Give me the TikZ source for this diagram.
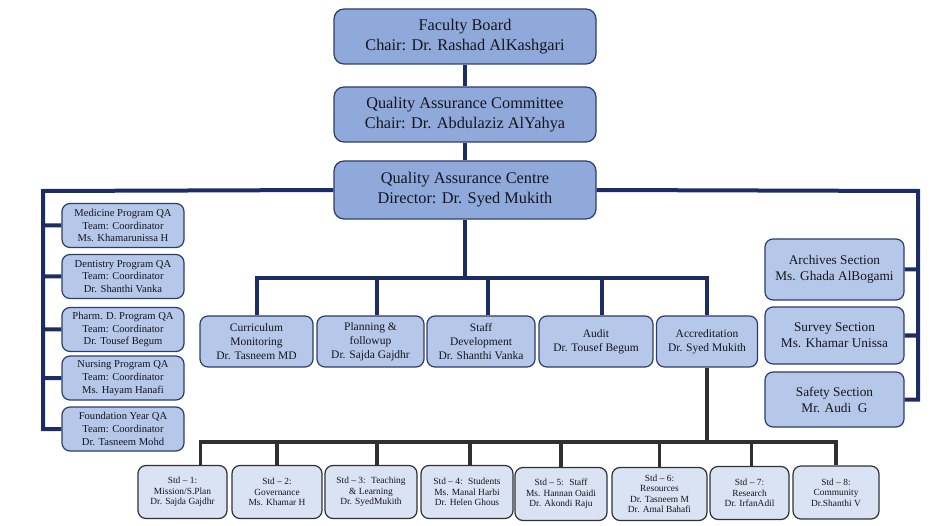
\documentclass[tikz,border=0pt]{standalone}
\usepackage{fontspec}
\setmainfont{Liberation Serif}
\definecolor{topfill}{HTML}{8FA9DB}
\definecolor{unitfill}{HTML}{B6C8E9}
\definecolor{stdfill}{HTML}{DAE3F3}
\definecolor{boxline}{HTML}{2E3C6A}
\definecolor{navyline}{HTML}{1C2D66}
\definecolor{grayline}{HTML}{303030}
\definecolor{txt}{HTML}{15151C}

\begin{document}
\begin{tikzpicture}[x=1pt,y=-1pt,
  box/.style={draw=boxline, line width=1.2pt, rounded corners=8pt, align=center, inner sep=1pt, text=txt},
  topbox/.style={box, fill=topfill, rounded corners=10pt, minimum width=262pt, font=\fontsize{16.3}{20}\selectfont},
  progbox/.style={box, fill=unitfill, minimum width=122pt, minimum height=44pt, font=\fontsize{10.6}{12.7}\selectfont},
  unitbox/.style={box, fill=unitfill, minimum height=51pt, font=\fontsize{11.5}{14}\selectfont},
  secbox/.style={box, fill=unitfill, minimum width=139pt, font=\fontsize{13.3}{16}\selectfont},
  stdbox/.style={box, draw=grayline!90!boxline, fill=stdfill, minimum height=53pt, font=\fontsize{9.4}{10.5}\selectfont},
  link/.style={navyline, line width=4pt},
  stdlink/.style={grayline, line width=3.5pt}]
  \useasboundingbox (0,0) rectangle (939,526);

  \node[topbox, minimum height=55pt] (board) at (465,36.5) {Faculty Board\\Chair: Dr. Rashad AlKashgari};
  \node[topbox, minimum height=55pt] (qac) at (465,114.5) {Quality Assurance Committee\\Chair: Dr. Abdulaziz AlYahya};
  \node[topbox, minimum height=58pt] (centre) at (465,190) {Quality Assurance Centre\\Director: Dr. Syed Mukith};

  \node[progbox] (med) at (123,225.5) {Medicine Program QA\\Team: Coordinator\\Ms. Khamarunissa H};
  \node[progbox] (dent) at (123,276.5) {Dentistry Program QA\\Team: Coordinator\\Dr. Shanthi Vanka};
  \node[progbox] (pharm) at (123,329.5) {Pharm. D. Program QA\\Team: Coordinator\\Dr. Tousef Begum};
  \node[progbox] (nurs) at (123,378) {Nursing Program QA\\Team: Coordinator\\Ms. Hayam Hanafi};
  \node[progbox] (found) at (123,429) {Foundation Year QA\\Team: Coordinator\\Dr. Tasneem Mohd};

  \node[unitbox, minimum width=113pt] (curr) at (256.5,341.5) {Curriculum\\Monitoring\\Dr. Tasneem MD};
  \node[unitbox, minimum width=107pt] (plan) at (370.5,341.5) {Planning \&\\followup\\Dr. Sajda Gajdhr};
  \node[unitbox, minimum width=108pt] (staff) at (481,341.5) {Staff\\Development\\Dr. Shanthi Vanka};
  \node[unitbox, minimum width=114pt] (audit) at (596,341.5) {Audit\\Dr. Tousef Begum};
  \node[unitbox, minimum width=101pt] (accr) at (707,341.5) {Accreditation\\Dr. Syed Mukith};

  \node[secbox, minimum height=61pt] (arch) at (834.5,269.5) {Archives Section\\Ms. Ghada AlBogami};
  \node[secbox, minimum height=57pt] (surv) at (834.5,335.5) {Survey Section\\Ms. Khamar Unissa};
  \node[secbox, minimum height=55pt] (safe) at (834.5,399.5) {Safety Section\\Mr. Audi~ G};

  \node[stdbox, minimum width=89pt] (std1) at (182.5,492) {Std – 1:\\Mission/S.Plan\\Dr. Sajda Gajdhr};
  \node[stdbox, minimum width=90pt] (std2) at (277,492) {Std – 2:\\Governance\\Ms. Khamar H};
  \node[stdbox, minimum width=92pt] (std3) at (371,492) {Std – 3:~ Teaching\\\& Learning\\Dr. SyedMukith};
  \node[stdbox, minimum width=92pt] (std4) at (467,492) {Std – 4:~ Students\\Ms. Manal Harbi\\Dr. Helen Ghous};
  \node[stdbox, minimum width=92pt] (std5) at (561,494) {Std – 5:~ Staff\\Ms. Hannan Oaidi\\Dr. Akondi Raju};
  \node[stdbox, minimum width=95pt] (std6) at (659.5,494) {Std – 6:\\Resources\\Dr. Tasneem M\\Dr. Amal Bahafi};
  \node[stdbox, minimum width=79pt] (std7) at (749.5,493) {Std – 7:\\Research\\Dr. IrfanAdil};
  \node[stdbox, minimum width=86pt] (std8) at (836,492.5) {Std – 8:\\Community\\Dr.Shanthi V};

  \coordinate (lbus) at (43,191);
  \coordinate (rbus) at (918,191);
  \coordinate (mbus) at (465,278);
  \coordinate (sbus) at (707,442);

  \draw[link] (board) -- (qac) -- (centre);
  \draw[link] (centre.west) -- (lbus) |- (found.west)
              (lbus) |- (med.west) (lbus) |- (dent.west) (lbus) |- (pharm.west) (lbus) |- (nurs.west);
  \draw[link] (centre.east) -- (rbus) |- (safe.east)
              (rbus) |- (arch.east) (rbus) |- (surv.east);
  \draw[link] (centre.south) -- (mbus)
              (mbus) -| (curr.north) (mbus) -| ([xshift=6pt]plan.north) (mbus) -| ([xshift=7pt]staff.north)
              (mbus) -| ([xshift=6pt]audit.north) (mbus) -| (accr.north);
  \draw[stdlink] (accr.south) -- (sbus)
              (sbus) -| ([xshift=18pt]std1.north) (sbus) -| (std2.north) (sbus) -| ([xshift=6pt]std3.north)
              (sbus) -| ([xshift=3pt]std4.north) (sbus) -| (std5.north) (sbus) -| (std6.north)
              (sbus) -| ([xshift=2pt]std7.north) (sbus) -| (std8.north);
\end{tikzpicture}
\end{document}
